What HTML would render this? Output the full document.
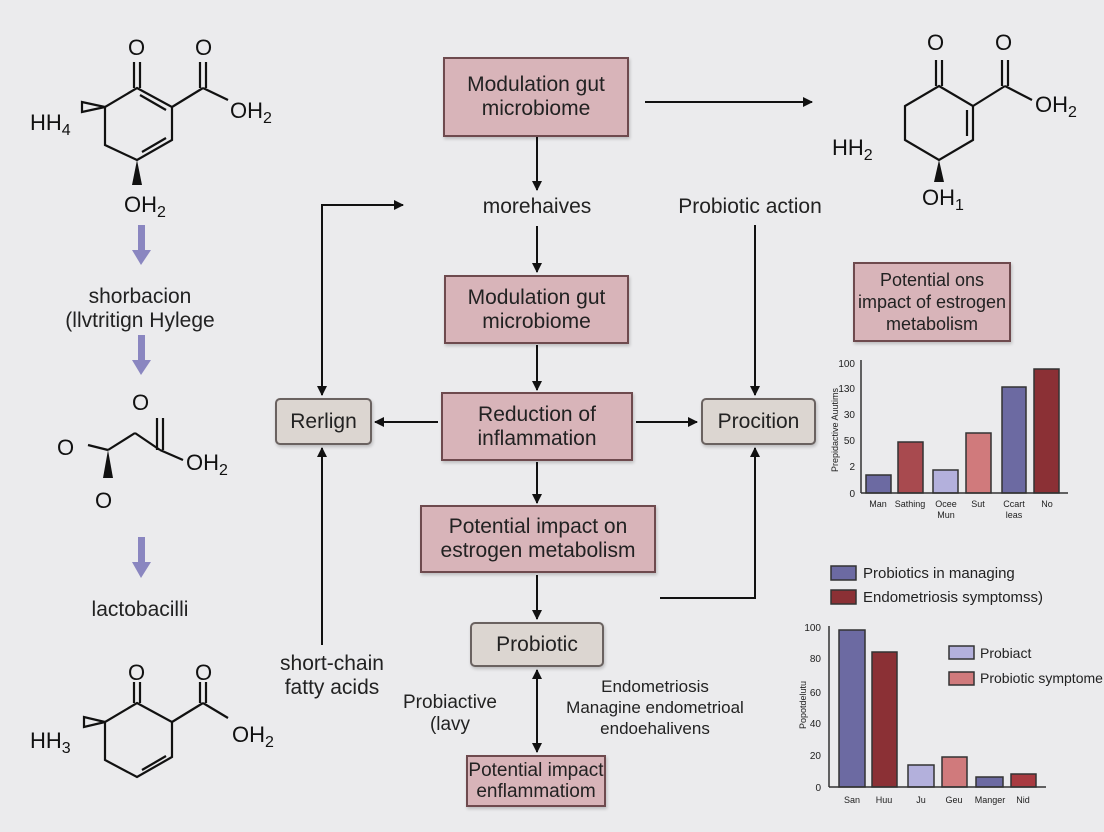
<!DOCTYPE html>
<html><head><meta charset="utf-8"><style>
body{margin:0;background:#dedfe2;}
.wrap{width:1104px;height:832px;position:relative;overflow:hidden;background:#ebebed;font-family:"Liberation Sans",sans-serif;}
.b{position:absolute;border:2px solid #6e4a4e;background:#d8b4b9;display:flex;align-items:center;justify-content:center;text-align:center;font-size:21px;line-height:24px;color:#222;box-sizing:border-box;box-shadow:1px 2px 3px rgba(0,0,0,.2);}
.g{background:#dcd6d1;border-color:#6a6260;border-radius:5px;}
.t{position:absolute;font-size:21px;color:#222;text-align:center;line-height:24px;}
svg{position:absolute;left:0;top:0;}
</style></head><body><div class="wrap">
<svg width="1104" height="832" viewBox="0 0 1104 832">
<defs><marker id="a" markerWidth="10" markerHeight="10" refX="9" refY="5" orient="auto" markerUnits="userSpaceOnUse"><path d="M0,0 L10,5 L0,10 z" fill="#111"/></marker>
<marker id="s" markerWidth="10" markerHeight="10" refX="1" refY="5" orient="auto" markerUnits="userSpaceOnUse"><path d="M10,0 L0,5 L10,10 z" fill="#111"/></marker></defs>
<g stroke="#111" stroke-width="2" fill="none">
<line x1="537" y1="137" x2="537" y2="190" marker-end="url(#a)"/>
<line x1="537" y1="226" x2="537" y2="272" marker-end="url(#a)"/>
<line x1="537" y1="345" x2="537" y2="390" marker-end="url(#a)"/>
<line x1="438" y1="422" x2="375" y2="422" marker-end="url(#a)"/>
<line x1="636" y1="422" x2="697" y2="422" marker-end="url(#a)"/>
<line x1="537" y1="462" x2="537" y2="503" marker-end="url(#a)"/>
<line x1="537" y1="575" x2="537" y2="619" marker-end="url(#a)"/>
<line x1="537" y1="670" x2="537" y2="752" marker-start="url(#s)" marker-end="url(#a)"/>
<line x1="645" y1="102" x2="812" y2="102" marker-end="url(#a)"/>
<polyline points="322,395 322,205 403,205" marker-start="url(#s)" marker-end="url(#a)"/>
<line x1="322" y1="645" x2="322" y2="448" marker-end="url(#a)"/>
<line x1="755" y1="225" x2="755" y2="395" marker-end="url(#a)"/>
<polyline points="660,598 755,598 755,448" marker-end="url(#a)"/>
</g>
<g fill="#8a86c0"><rect x="138" y="225" width="7" height="28"/><path d="M132,250 L151,250 L141,265 z"/>
<rect x="138" y="335" width="7" height="28"/><path d="M132,360 L151,360 L141,375 z"/>
<rect x="138" y="537" width="7" height="28"/><path d="M132,562 L151,562 L141,578 z"/></g>
<g stroke="#111" stroke-width="2.2" fill="none">
<path d="M137,88 L172,107 L172,140 L137,160 L105,145 L105,107 Z"/>
<line x1="140" y1="95" x2="166" y2="110"/><line x1="142" y1="152" x2="166" y2="138"/>
<line x1="134" y1="88" x2="134" y2="62"/><line x1="140" y1="88" x2="140" y2="62"/>
<line x1="172" y1="107" x2="203" y2="88"/><line x1="200" y1="88" x2="200" y2="62"/><line x1="206" y1="88" x2="206" y2="62"/><line x1="203" y1="88" x2="228" y2="100"/>
<path d="M105,107 L82,102 L82,112 Z"/>
<path d="M939,86 L973,106 L973,140 L939,160 L905,140 L905,106 Z"/>
<line x1="967" y1="110" x2="967" y2="136"/>
<line x1="936" y1="86" x2="936" y2="60"/><line x1="942" y1="86" x2="942" y2="60"/>
<line x1="973" y1="106" x2="1005" y2="86"/><line x1="1002" y1="86" x2="1002" y2="60"/><line x1="1008" y1="86" x2="1008" y2="60"/><line x1="1005" y1="86" x2="1032" y2="100"/>
<line x1="108" y1="450" x2="135" y2="433"/><line x1="135" y1="433" x2="160" y2="450"/><line x1="160" y1="450" x2="183" y2="460"/>
<line x1="157" y1="450" x2="157" y2="418"/><line x1="163" y1="450" x2="163" y2="418"/>
<line x1="88" y1="445" x2="108" y2="450"/>
<path d="M137,703 L172,722 L172,757 L137,777 L105,760 L105,722 Z"/>
<line x1="142" y1="770" x2="166" y2="756"/>
<line x1="134" y1="703" x2="134" y2="682"/><line x1="140" y1="703" x2="140" y2="682"/>
<line x1="172" y1="722" x2="203" y2="703"/><line x1="200" y1="703" x2="200" y2="682"/><line x1="206" y1="703" x2="206" y2="682"/><line x1="203" y1="703" x2="228" y2="718"/>
<path d="M105,722 L84,717 L84,727 Z"/>
</g>
<path d="M137,160 L132,185 L142,185 Z" fill="#111"/>
<path d="M939,160 L934,182 L944,182 Z" fill="#111"/>
<path d="M108,450 L103,478 L113,478 Z" fill="#111"/>
<g font-family="Liberation Sans" font-size="22" fill="#111">
<text x="128" y="55">O</text><text x="195" y="55">O</text><text x="30" y="130">HH<tspan font-size="16" dy="5">4</tspan></text><text x="230" y="118">OH<tspan font-size="16" dy="5">2</tspan></text><text x="124" y="212">OH<tspan font-size="16" dy="5">2</tspan></text>
<text x="927" y="50">O</text><text x="995" y="50">O</text><text x="1035" y="112">OH<tspan font-size="16" dy="5">2</tspan></text><text x="832" y="155">HH<tspan font-size="16" dy="5">2</tspan></text><text x="922" y="205">OH<tspan font-size="16" dy="5">1</tspan></text>
<text x="132" y="410">O</text><text x="57" y="455">O</text><text x="186" y="470">OH<tspan font-size="16" dy="5">2</tspan></text><text x="95" y="508">O</text>
<text x="128" y="680">O</text><text x="195" y="680">O</text><text x="30" y="748">HH<tspan font-size="16" dy="5">3</tspan></text><text x="232" y="742">OH<tspan font-size="16" dy="5">2</tspan></text>
</g>
<g stroke="#333" stroke-width="1.5">
<rect x="866" y="475" width="25" height="18" fill="#6c6aa2"/><rect x="898" y="442" width="25" height="51" fill="#a84a4f"/><rect x="933" y="470" width="25" height="23" fill="#b3b0dc"/><rect x="966" y="433" width="25" height="60" fill="#d07a7c"/><rect x="1002" y="387" width="24" height="106" fill="#6c6aa2"/><rect x="1034" y="369" width="25" height="124" fill="#8b3035"/>
<line x1="861" y1="360" x2="861" y2="493"/><line x1="861" y1="493" x2="1068" y2="493"/>
<rect x="831" y="566" width="25" height="14" fill="#6c6aa2"/><rect x="831" y="590" width="25" height="14" fill="#8b3035"/>
<rect x="839" y="630" width="26" height="157" fill="#6c6aa2"/><rect x="872" y="652" width="25" height="135" fill="#8b3035"/><rect x="908" y="765" width="26" height="22" fill="#b3b0dc"/><rect x="942" y="757" width="25" height="30" fill="#d07a7c"/><rect x="976" y="777" width="27" height="10" fill="#6c6aa2"/><rect x="1011" y="774" width="25" height="13" fill="#a83a40"/>
<line x1="829" y1="626" x2="829" y2="787"/><line x1="829" y1="787" x2="1046" y2="787"/>
<rect x="949" y="646" width="25" height="13" fill="#b3b0dc"/><rect x="949" y="672" width="25" height="13" fill="#d07a7c"/>
</g>
<g font-family="Liberation Sans" font-size="10" fill="#222" text-anchor="end">
<text x="855" y="367">100</text><text x="855" y="392">130</text><text x="855" y="418">30</text><text x="855" y="444">50</text><text x="855" y="470">2</text><text x="855" y="497">0</text>
<text x="821" y="631">100</text><text x="821" y="662">80</text><text x="821" y="696">60</text><text x="821" y="727">40</text><text x="821" y="759">20</text><text x="821" y="791">0</text>
</g>
<g font-family="Liberation Sans" font-size="9" fill="#222" text-anchor="middle">
<text x="878" y="507">Man</text><text x="910" y="507">Sathing</text><text x="946" y="507">Ocee</text><text x="946" y="518">Mun</text><text x="978" y="507">Sut</text><text x="1014" y="507">Ccart</text><text x="1014" y="518">leas</text><text x="1047" y="507">No</text>
<text x="852" y="803">San</text><text x="884" y="803">Huu</text><text x="921" y="803">Ju</text><text x="954" y="803">Geu</text><text x="990" y="803">Manger</text><text x="1023" y="803">Nid</text>
</g>
<text transform="translate(838,430) rotate(-90)" font-family="Liberation Sans" font-size="9" fill="#222" text-anchor="middle">Prepidactive Auutims</text>
<text transform="translate(806,705) rotate(-90)" font-family="Liberation Sans" font-size="9" fill="#222" text-anchor="middle">Popotdelutu</text>
<g font-family="Liberation Sans" font-size="15" fill="#222"><text x="863" y="578">Probiotics in managing</text><text x="863" y="602">Endometriosis symptomss)</text></g>
<g font-family="Liberation Sans" font-size="14" fill="#222"><text x="980" y="658">Probiact</text><text x="980" y="683">Probiotic symptome</text></g>
</svg>
<div class="b" style="left:443px;top:57px;width:186px;height:80px;">Modulation gut<br>microbiome</div>
<div class="t" style="left:437px;top:195px;width:200px;">morehaives</div>
<div class="t" style="left:650px;top:195px;width:200px;">Probiotic action</div>
<div class="b" style="left:444px;top:275px;width:185px;height:69px;">Modulation gut<br>microbiome</div>
<div class="b" style="left:441px;top:392px;width:192px;height:69px;">Reduction of<br>inflammation</div>
<div class="b" style="left:420px;top:505px;width:236px;height:68px;">Potential impact on<br>estrogen metabolism</div>
<div class="b g" style="left:470px;top:622px;width:134px;height:45px;">Probiotic</div>
<div class="b" style="left:466px;top:755px;width:140px;height:52px;font-size:19px;line-height:21px;">Potential impact<br>enflammatiom</div>
<div class="b g" style="left:275px;top:398px;width:97px;height:47px;">Rerlign</div>
<div class="b g" style="left:701px;top:398px;width:115px;height:47px;">Procition</div>
<div class="b" style="left:853px;top:262px;width:158px;height:80px;font-size:18px;line-height:22px;white-space:nowrap;">Potential ons<br>impact of estrogen<br>metabolism</div>
<div class="t" style="left:40px;top:285px;width:200px;">shorbacion<br>(llvtritign Hylege</div>
<div class="t" style="left:40px;top:598px;width:200px;">lactobacilli</div>
<div class="t" style="left:232px;top:652px;width:200px;">short-chain<br>fatty acids</div>
<div class="t" style="left:385px;top:692px;width:130px;font-size:19px;line-height:22px;">Probiactive<br>(lavy</div>
<div class="t" style="left:545px;top:676px;width:220px;font-size:17px;line-height:21px;">Endometriosis<br>Managine endometrioal<br>endoehalivens</div>
</div></body></html>
